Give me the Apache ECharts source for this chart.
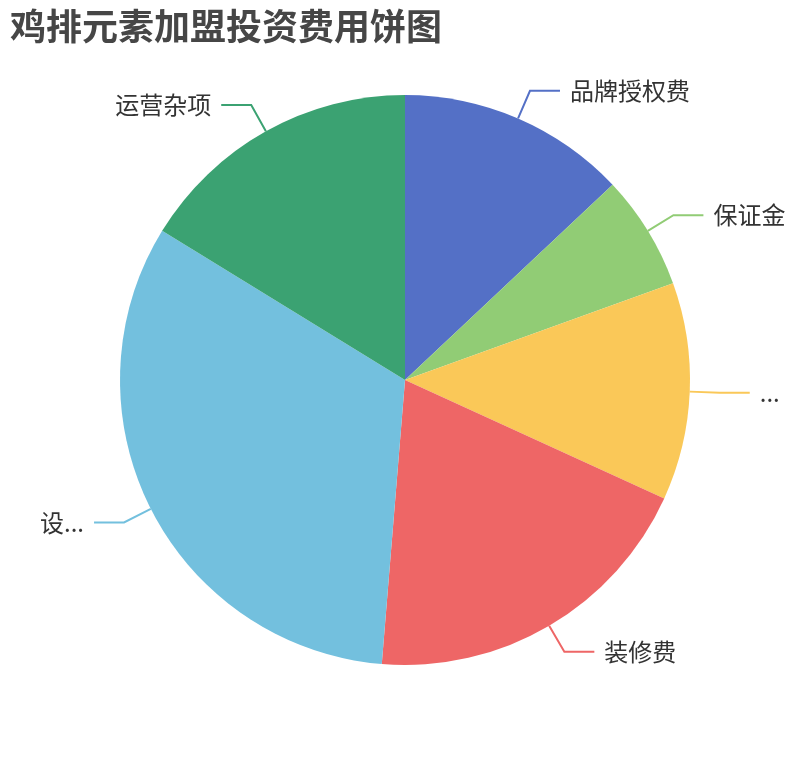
<!DOCTYPE html>
<html>
<head>
<meta charset="utf-8">
<style>
  html, body { margin: 0; padding: 0; background: #fff; }
  #chart { width: 810px; height: 760px; }
</style>
<script src="https://cdn.jsdelivr.net/npm/echarts@6/dist/echarts.min.js"></script>
</head>
<body>
<div id="chart"></div>
<script>
// 鸡排元素加盟投资费用饼图
var titleText = '鸡排元素加盟投资费用饼图';
var categories = ['品牌授权费', '保证金', '首批原材料费', '装修费', '设备采购费', '运营杂项'];
var values = [2, 1, 1.9, 3, 5, 2.5];
var colors = ['#5470c6', '#91cc75', '#fac858', '#ee6666', '#73c0de', '#3ba272'];

(function () {
  var el = document.getElementById('chart');
  var chart = echarts.init(el, null, { renderer: 'canvas' });

  var data = categories.map(function (name, i) {
    return { name: name, value: values[i], itemStyle: { color: colors[i] } };
  });

  chart.setOption({
    animation: false,
    title: {
      text: titleText,
      left: 5,
      top: 3,
      textStyle: {
        fontSize: 36,
        fontWeight: 'bold',
        color: '#464646',
        fontFamily: 'Noto Sans CJK SC'
      }
    },
    series: [{
      type: 'pie',
      left: 25,
      right: 10,
      // centre is measured from the series box, which starts at x=25
      center: [380, 380],
      radius: '75%',
      startAngle: 90,
      clockwise: true,
      data: data,
      label: {
        show: true,
        fontSize: 24,
        color: '#333',
        fontFamily: 'Noto Sans CJK SC',
        distanceToLabelLine: 10
      },
      labelLine: { show: true, length: 30, length2: 30, lineStyle: { width: 2 } }
    }]
  });

  window.addEventListener('resize', function () { chart.resize(); });
})();
</script>
</body>
</html>
